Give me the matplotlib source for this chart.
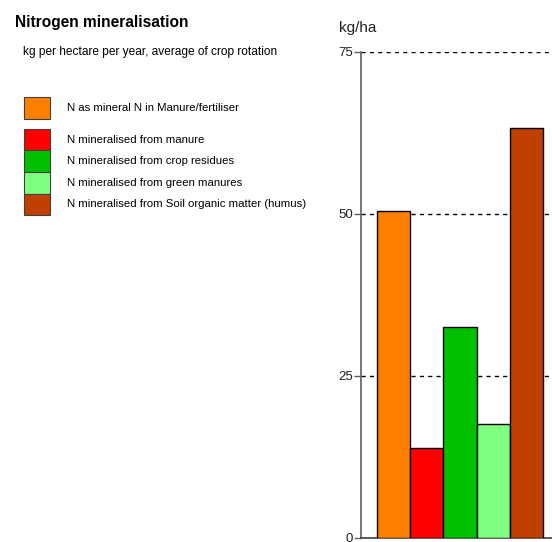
import matplotlib
matplotlib.use("Agg")
import matplotlib.pyplot as plt
from matplotlib.patches import Rectangle

categories = [
    "N as mineral N in Manure/fertiliser",
    "N mineralised from manure",
    "N mineralised from crop residues",
    "N mineralised from green manures",
    "N mineralised from Soil organic matter (humus)",
]
values = [50.5, 13.9, 32.5, 17.6, 63.3]
colors = ["#FF8000", "#FF0000", "#00C000", "#80FF80", "#C04000"]
yticks = [0, 25, 50, 75]

W, H = 552, 542
fig = plt.figure(figsize=(W / 100, H / 100), dpi=100)
fig.patch.set_facecolor("white")

narrow = ["Liberation Sans Narrow", "Liberation Sans", "DejaVu Sans"]

def fx(px):
    return px / W

def fy(py):
    return 1 - py / H

ax = fig.add_axes([fx(361), fy(538), fx(552) - fx(361) + 0.01, fy(52) - fy(538)])
xs = list(range(len(values)))
ax.bar(xs, values, width=1.0, color=colors, edgecolor="black", linewidth=1.0, zorder=3)
ax.set_xlim(-0.994, 4.78 + 0.01 * W / 33)
ax.set_ylim(0, 75)
ax.set_yticks(yticks)
ax.set_yticklabels([str(t) for t in yticks], family=narrow, fontsize=9.5, color="#202020")
ax.set_xticks([])
for t in yticks[1:]:
    ax.axhline(t, color="black", linestyle=(0, (3, 3)), linewidth=1.0, zorder=1)
for s in ["top", "right"]:
    ax.spines[s].set_visible(False)
ax.spines["left"].set_color("#606060")
ax.spines["bottom"].set_color("#404040")
ax.spines["left"].set_linewidth(1.2)
ax.spines["bottom"].set_linewidth(1.2)
ax.tick_params(axis="y", length=5, width=1.0, color="#606060", pad=1)
ax.set_facecolor("white")

fig.text(fx(339), fy(28), "kg/ha", family=narrow, fontsize=11, va="center", ha="left", color="#202020")

fig.text(fx(15), fy(22), "Nitrogen mineralisation", family=["Liberation Sans", "DejaVu Sans"],
         fontweight="bold", fontsize=11.2, va="center", ha="left")
fig.text(fx(23), fy(52), "kg per hectare per year, average of crop rotation", family=narrow,
         fontsize=8.6, va="center", ha="left")

swatches = [(97, 119), (129, 150.5), (150.5, 172), (172, 193.5), (193.5, 215)]
for (y0, y1), c, lab in zip(swatches, colors, categories):
    fig.patches.append(Rectangle((fx(24), fy(y1)), fx(26), fy(y0) - fy(y1),
                                 transform=fig.transFigure, facecolor=c,
                                 edgecolor="#404040", linewidth=0.8))
    fig.text(fx(67), fy((y0 + y1) / 2), lab, family=narrow, fontsize=8.2,
             va="center", ha="left")

fig.savefig("out.png", dpi=100, facecolor="white")
